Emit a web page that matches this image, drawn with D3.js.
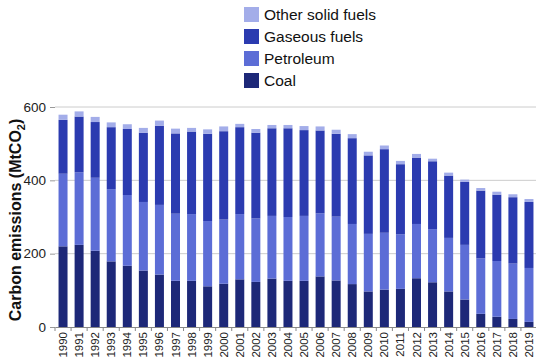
<!DOCTYPE html>
<html>
<head>
<meta charset="utf-8">
<script src="https://cdn.jsdelivr.net/npm/d3@7"></script>
<style>
  body { margin: 0; background: #fff; }
  text { font-family: Arial, "Liberation Sans", sans-serif; }
</style>
</head>
<body>
<svg id="chart"></svg>
<script>
// Data (MtCO2)
const years = d3.range(1990, 2020).map(String);
const coal = [220, 224, 208, 179, 167, 154, 143, 126, 126, 111, 118, 130, 123, 132, 126, 126, 138, 127, 117, 97, 102, 104, 133, 122, 97, 75, 36, 28, 22, 14];
const petroleum = [198, 198, 199, 197, 193, 187, 190, 183, 182, 178, 175, 178, 173, 171, 174, 177, 172, 174, 164, 157, 155, 149, 148, 145, 146, 149, 151, 152, 151, 147];
const gaseous = [147, 152, 152, 169, 180, 189, 216, 219, 225, 238, 241, 237, 234, 239, 242, 234, 226, 226, 234, 214, 228, 191, 181, 185, 170, 172, 185, 181, 181, 180];
const other = [14, 14, 14, 13, 13, 13, 14, 13, 10, 12, 13, 9, 10, 9, 9, 11, 11, 11, 11, 10, 10, 9, 10, 7, 8, 6, 7, 8, 8, 8];
const yTicks = [0, 200, 400, 600];

const keys = ["coal", "petroleum", "gaseous", "other"];
const labels = { coal: "Coal", petroleum: "Petroleum", gaseous: "Gaseous fuels", other: "Other solid fuels" };
const colors = { coal: "#1d2878", petroleum: "#5c6dd6", gaseous: "#2b3bb0", other: "#a3ade9" };

const table = years.map((y, i) => ({ year: y, coal: coal[i], petroleum: petroleum[i], gaseous: gaseous[i], other: other[i] }));

// Dimensions
const Width = 536, Height = 363;
const margin = { top: 107, right: 0, bottom: 36, left: 55 };

const svg = d3.select("#chart")
  .attr("width", Width)
  .attr("height", Height);

const xScale = d3.scaleBand()
  .domain(years)
  .range([margin.left, 537])
  .paddingInner(0.44)
  .paddingOuter(0.22);

const yScale = d3.scaleLinear()
  .domain([0, 600])
  .range([Height - margin.bottom, margin.top]);

// Gridlines
svg.append("g")
  .selectAll("line")
  .data(yTicks.slice(1))
  .enter()
  .append("line")
  .attr("x1", margin.left)
  .attr("x2", Width)
  .attr("y1", d => yScale(d))
  .attr("y2", d => yScale(d))
  .attr("stroke", "#cccccc")
  .attr("stroke-width", 1);

// Stacked bars
const stack = d3.stack().keys(keys)(table);

svg.append("g")
  .selectAll("g")
  .data(stack)
  .enter()
  .append("g")
  .attr("fill", d => colors[d.key])
  .selectAll("rect")
  .data(d => d)
  .enter()
  .append("rect")
  .attr("x", d => xScale(d.data.year))
  .attr("width", xScale.bandwidth())
  .attr("y", d => yScale(d[1]))
  .attr("height", d => yScale(d[0]) - yScale(d[1]));

// Y axis
const yAxis = svg.append("g")
  .attr("transform", `translate(${margin.left},0)`)
  .call(d3.axisLeft(yScale).tickValues(yTicks).tickSize(5).tickPadding(4));
yAxis.select(".domain").remove();
yAxis.selectAll(".tick line").attr("stroke", "#999");
yAxis.selectAll("text").attr("font-size", 13.5).attr("fill", "#222");

// X axis
const xAxis = svg.append("g")
  .attr("transform", `translate(0,${Height - margin.bottom})`)
  .call(d3.axisBottom(xScale).tickSize(0).tickPadding(4));
xAxis.select(".domain").attr("stroke", "#888");
xAxis.selectAll("text")
  .attr("font-size", 11.5)
  .attr("fill", "#222")
  .attr("transform", "rotate(-90)")
  .attr("text-anchor", "end")
  .attr("x", -5)
  .attr("y", 0)
  .attr("dy", "0.35em");

// Ticks between categories
svg.append("g")
  .selectAll("line")
  .data(d3.range(years.length + 1))
  .enter()
  .append("line")
  .attr("x1", i => margin.left + i * xScale.step())
  .attr("x2", i => margin.left + i * xScale.step())
  .attr("y1", Height - margin.bottom)
  .attr("y2", Height - margin.bottom + 4)
  .attr("stroke", "#888");

// Y label
const yLabel = svg.append("text")
  .attr("transform", `translate(21,${(yScale(0) + yScale(600)) / 2 + 3}) rotate(-90)`)
  .attr("text-anchor", "middle")
  .attr("font-size", 16)
  .attr("font-weight", "bold")
  .attr("fill", "#111");
yLabel.append("tspan").text("Carbon emissions (MtCO");
yLabel.append("tspan").attr("font-size", 11).attr("dy", 4).text("2");
yLabel.append("tspan").attr("dy", -4).text(")");

// Legend
const legend = svg.append("g")
  .selectAll("g")
  .data(keys.slice().reverse())
  .enter()
  .append("g")
  .attr("transform", (d, i) => `translate(244,${7 + i * 22})`);

legend.append("rect")
  .attr("width", 15)
  .attr("height", 15)
  .attr("fill", d => colors[d]);

legend.append("text")
  .attr("x", 20)
  .attr("y", 8)
  .attr("dy", "0.35em")
  .attr("font-size", 15.5)
  .attr("fill", "#111")
  .text(d => labels[d]);
</script>
</body>
</html>
